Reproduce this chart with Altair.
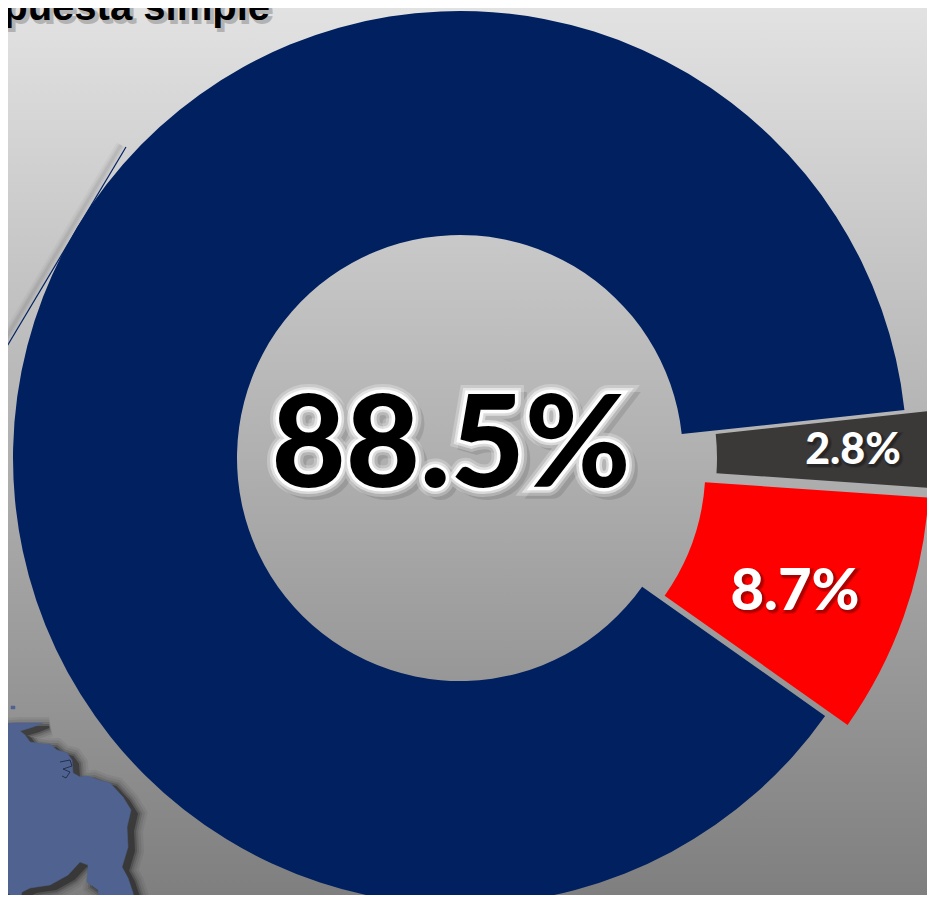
import altair as alt
import pandas as pd
import math

names = ["Otros", "Rojo", "Azul"]
shares = [2.8, 8.7, 88.5]
colors = ["#3B3838", "#FF0000", "#002060"]
labels = ["2.8%", "8.7%", "88.5%"]
title_text = "puesta simple"

map_x = [0,13,43,33,20,25,30,43,50,57,67,72,73,80,88,98,110,123,131,127,128,122,128,133,135,100,98,87,88,80,68,50,30,22,20,7,0]
map_y = [724,723,723,727,731,735,742,744,744,750,753,760,773,777,776,780,783,797,810,827,847,867,878,893,903,903,890,882,865,862,875,885,888,892,900,893,893]
island_x = [11,15,15,11]
island_y = [706,706,709,709]
lake_x = [60,70,72,63,70,66,62]
lake_y = [762,760,766,769,772,778,776]

W, H = 919, 887
X0, Y0 = 8, 8
CX, CY = 460 - X0, 458 - Y0
RO, RI = 447, 223
START = math.radians(83.84)

df = pd.DataFrame({"name": names, "share": shares, "rank": range(3)})
theta_scale = alt.Scale(domain=[0, 100], range=[START, START + 2 * math.pi])
xs = alt.Scale(domain=[X0, X0 + W], range=[0, W])
ys = alt.Scale(domain=[Y0, Y0 + H], range=[0, H])


def wedge(i, dx, dy):
    return (
        alt.Chart(df)
        .transform_stack(stack="share", groupby=[], as_=["s0", "s1"],
                         sort=[alt.SortField("rank", order="ascending")])
        .transform_filter(alt.datum.name == names[i])
        .mark_arc(radius=RO, radius2=RI, color=colors[i], xOffset=dx, yOffset=dy)
        .encode(
            theta=alt.Theta("s0:Q", scale=theta_scale),
            theta2="s1:Q",
            x=alt.value(CX),
            y=alt.value(CY),
        )
    )


bg = alt.Chart(pd.DataFrame({"a": [0]})).mark_rect(
    color=alt.LinearGradient(gradient="linear", stops=[
        alt.GradientStop(color="#E2E2E2", offset=0),
        alt.GradientStop(color="#7F7F7F", offset=1)], x1=0, x2=0, y1=0, y2=1)
).encode(x=alt.value(0), x2=alt.value(W), y=alt.value(0), y2=alt.value(H))


def text(txt, px, py, size, color="#000000", font="Lato", align="center", weight=900, **kw):
    return alt.Chart(pd.DataFrame({"t": [txt]})).mark_text(
        font=font, fontWeight=weight, fontSize=size, align=align, baseline="alphabetic",
        color=color, **kw
    ).encode(text="t:N", x=alt.value(px - X0), y=alt.value(py - Y0))


def glow_text(txt, px, py, size, color, shadow_off, glow=False):
    out = []
    if glow:
        out.append(text(txt, px + shadow_off, py + shadow_off, size, color="#000000",
                        stroke="#000000", strokeWidth=14, opacity=0.10))
        for w, op in [(18, 0.25), (12, 0.5), (7, 0.95)]:
            out.append(text(txt, px, py, size, color="#FFFFFF", stroke="#FFFFFF",
                            strokeWidth=w, opacity=op))
    else:
        for w, op in [(4, 0.12), (1.5, 0.22)]:
            out.append(text(txt, px + shadow_off, py + shadow_off, size, color="#000000",
                            stroke="#000000", strokeWidth=w, opacity=op))
    out.append(text(txt, px, py, size, color=color))
    return out


def poly(xv, yv, dx, dy, fill, stroke_w=0.0, opacity=1.0):
    d = pd.DataFrame({"x": xv, "y": yv, "i": range(len(xv))})
    return alt.Chart(d).mark_line(
        interpolate="linear-closed", fill=fill, stroke=fill, strokeWidth=stroke_w,
        opacity=opacity, xOffset=dx, yOffset=dy, clip=True
    ).encode(
        x=alt.X("x:Q", scale=xs, axis=None),
        y=alt.Y("y:Q", scale=ys, axis=None),
        order="i:Q",
    )


map_shadow = [poly(map_x, map_y, 6, 4, "#000000", w, op)
              for w, op in [(20, 0.05), (15, 0.07), (10, 0.11), (6, 0.17), (2, 0.3)]]
map_main = poly(map_x, map_y, 0, 0, "#4F6290", 0.5)
island = poly(island_x, island_y, 0, 0, "#4F6290", 0.5)

lake = alt.Chart(pd.DataFrame({"x": lake_x, "y": lake_y, "i": range(len(lake_x))})).mark_line(
    color="#1A2340", strokeWidth=1, opacity=0.8
).encode(x=alt.X("x:Q", scale=xs, axis=None), y=alt.Y("y:Q", scale=ys, axis=None), order="i:Q")

line_pts = pd.DataFrame({"x": [126, 0], "y": [147, 358], "i": [0, 1]})


def line_layer(dx, dy, color, w, op):
    return alt.Chart(line_pts).mark_line(color=color, strokeWidth=w, opacity=op,
                                         xOffset=dx, yOffset=dy, clip=True).encode(
        x=alt.X("x:Q", scale=xs, axis=None),
        y=alt.Y("y:Q", scale=ys, axis=None),
        order="i:Q",
    )


layers = [bg]
layers += [line_layer(-5, -2, "#000000", w, op) for w, op in [(10, 0.03), (6, 0.04), (3, 0.05)]]
layers += [line_layer(0, 0, "#002060", 1.2, 1)]
layers += map_shadow + [map_main, island, lake]
layers += [wedge(2, 0, 0), wedge(1, 22.5, 9), wedge(0, 34, 0)]
layers.append(text(title_text, 273, 23, 40, font="Liberation Sans", align="right", weight="bold",
                   stroke="#000000", strokeWidth=2, opacity=0.2))
layers.append(text(title_text, 270, 20, 40, font="Liberation Sans", align="right", weight="bold"))
layers += glow_text(labels[2], 451, 487, 128, "#000000", 5, glow=True)
layers += glow_text(labels[1], 795, 610, 58, "#FFFFFF", 2)
layers += glow_text(labels[0], 853, 464, 43, "#FFFFFF", 2)

chart = alt.layer(*layers).properties(
    width=W, height=H, padding=0, autosize=alt.AutoSizeParams(type="none")
).configure_view(stroke=None)

chart.save("out.html", embed_options={"renderer": "svg", "actions": False})
